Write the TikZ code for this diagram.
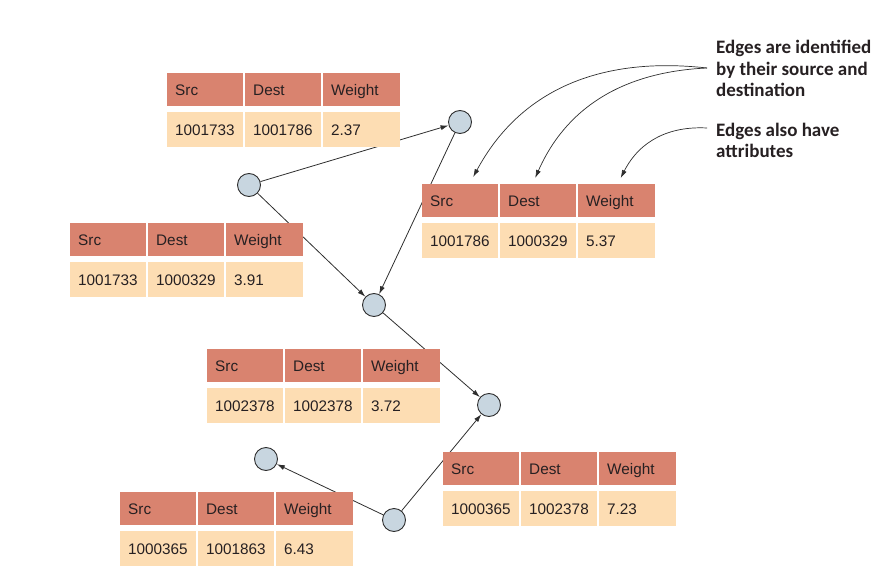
\documentclass[tikz,border=0pt]{standalone}
\usepackage{fontspec}
\setmainfont{Liberation Sans}
\newfontfamily\notefont{Carlito}
\usetikzlibrary{arrows.meta,calc}

\definecolor{headfill}{HTML}{D9836F}
\definecolor{datafill}{HTML}{FDDDB3}
\definecolor{vertfill}{HTML}{C8D6E0}
\definecolor{inkcol}{HTML}{262022}
\definecolor{linecol}{HTML}{2E2E2E}

\tikzset{
  cellbase/.style={anchor=north west, inner xsep=8pt, inner ysep=0pt,
    align=left, text height=11pt, text depth=0pt, text=inkcol,
    font=\fontsize{15.3}{18}\selectfont},
  headcell/.style={cellbase, fill=headfill, minimum height=33pt},
  datacell/.style={cellbase, fill=datafill, minimum height=35pt},
  vertex/.style={circle, draw=linecol, line width=0.9pt, fill=vertfill,
    minimum size=23pt, inner sep=0pt},
  edgeline/.style={draw=linecol, line width=0.8pt,
    -{Latex[length=8pt,width=5pt]}},
  callout/.style={draw=linecol, line width=0.7pt,
    -{Latex[length=8pt,width=5pt]}},
  notetext/.style={anchor=base west, align=left, inner sep=0pt, text=inkcol,
    font=\notefont\bfseries\fontsize{19}{21.5}\selectfont},
}

% One edge record: header row (Src, Dest, Weight) over its value row.
% #1 name, #2 left x, #3 top y, #4 source, #5 destination, #6 weight
\newcommand\edgerecord[6]{%
  \node[headcell, text width=60pt] (#1-hs) at (#2,#3) {Src};
  \node[headcell, text width=60pt] (#1-hd) at (#2+78,#3) {Dest};
  \node[headcell, text width=61pt] (#1-hw) at (#2+156,#3) {Weight};
  \node[datacell, text width=60pt] (#1-ds) at (#2,#3+39) {#4};
  \node[datacell, text width=60pt] (#1-dd) at (#2+78,#3+39) {#5};
  \node[datacell, text width=61pt] (#1-dw) at (#2+156,#3+39) {#6};
}

\begin{document}
\begin{tikzpicture}[x=1pt,y=-1pt]
  \useasboundingbox (0,0) rectangle (893,577);

  % vertices
  \node[vertex] (va) at (249,185) {};
  \node[vertex] (vb) at (460,122) {};
  \node[vertex] (vc) at (374,305) {};
  \node[vertex] (vd) at (489,405) {};
  \node[vertex] (ve) at (266,459) {};
  \node[vertex] (vf) at (394,520) {};

  % directed edges
  \draw[edgeline] (va) -- (vb);
  \draw[edgeline] (va) -- (vc);
  \draw[edgeline] (vb) -- (vc);
  \draw[edgeline] (vc) -- (vd);
  \draw[edgeline] (vf) -- (vd);
  \draw[edgeline] (vf) -- (ve);

  % edge records, laid over the edges
  \edgerecord{ab}{167}{73}{1001733}{1001786}{2.37}
  \edgerecord{bc}{422}{184}{1001786}{1000329}{5.37}
  \edgerecord{ac}{70}{223}{1001733}{1000329}{3.91}
  \edgerecord{cd}{207}{349}{1002378}{1002378}{3.72}
  \edgerecord{fd}{443}{452}{1000365}{1002378}{7.23}
  \edgerecord{fe}{120}{492}{1000365}{1001863}{6.43}

  % notes (anchored on the baseline of their last line)
  \node[notetext] (noteid) at (716,97)
    {Edges are identified\\by their source and\\destination};
  \node[notetext] (noteattr) at (716,158)
    {Edges also have\\attributes};

  \coordinate (idfrom) at (707,68);
  \coordinate (attrfrom) at (707,128);
  \coordinate (srcmark) at ($(bc-hs.north)+(13,-7)$);
  \coordinate (destmark) at ($(bc-hd.north)+(-3,-6)$);
  \coordinate (wmark) at ($(bc-hw.north)+(4,-6)$);

  \draw[callout] (idfrom) .. controls (600,56) and (520,90) .. (srcmark);
  \draw[callout] (idfrom) .. controls (620,72) and (565,110) .. (destmark);
  \draw[callout] (attrfrom) .. controls (670,126) and (640,140) .. (wmark);
\end{tikzpicture}
\end{document}
